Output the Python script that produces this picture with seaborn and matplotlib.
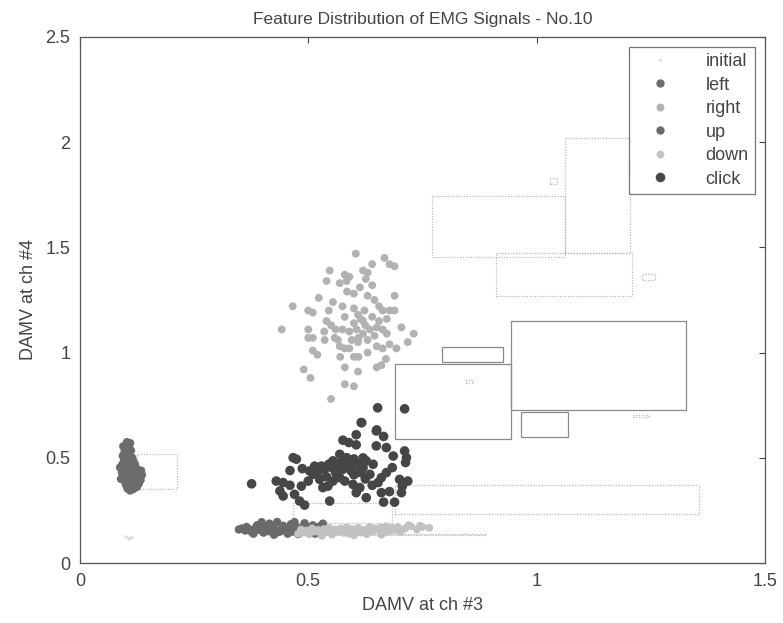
import matplotlib
matplotlib.use("Agg")
import matplotlib.pyplot as plt
from matplotlib.patches import Rectangle
import pandas as pd
import seaborn as sns

sns.set_style("white")
plt.rcParams["font.family"] = ["Liberation Sans", "DejaVu Sans"]

# cluster points
init_x = [0.100, 0.105, 0.110, 0.115, 0.108]
init_y = [0.125, 0.120, 0.118, 0.122, 0.113]

left_x = [0.103, 0.110, 0.095, 0.100, 0.107, 0.098, 0.104, 0.112, 0.094, 0.101, 0.108, 0.115,
          0.097, 0.104, 0.111, 0.118, 0.093, 0.100, 0.107, 0.114, 0.121, 0.096, 0.103, 0.110,
          0.117, 0.124, 0.092, 0.099, 0.106, 0.113, 0.120, 0.127, 0.095, 0.102, 0.109, 0.116,
          0.123, 0.130, 0.098, 0.105, 0.112, 0.119, 0.126, 0.133, 0.101, 0.108, 0.115, 0.122,
          0.129, 0.104, 0.111, 0.118, 0.125, 0.110, 0.117, 0.136, 0.088, 0.090, 0.134]
left_y = [0.575, 0.570, 0.555, 0.545, 0.550, 0.530, 0.525, 0.535, 0.510, 0.505, 0.512, 0.500,
          0.490, 0.485, 0.492, 0.480, 0.470, 0.465, 0.472, 0.460, 0.468, 0.450, 0.445, 0.452,
          0.440, 0.448, 0.430, 0.425, 0.432, 0.420, 0.428, 0.435, 0.410, 0.405, 0.412, 0.400,
          0.408, 0.415, 0.390, 0.385, 0.392, 0.380, 0.388, 0.395, 0.372, 0.368, 0.375, 0.365,
          0.378, 0.355, 0.350, 0.358, 0.362, 0.345, 0.352, 0.420, 0.455, 0.400, 0.440]

right_x = [0.604, 0.667, 0.678, 0.689, 0.547, 0.540, 0.580, 0.590, 0.569, 0.584, 0.620, 0.630,
           0.626, 0.640, 0.613, 0.523, 0.630, 0.645, 0.689, 0.466, 0.500, 0.510, 0.554, 0.575,
           0.580, 0.600, 0.609, 0.623, 0.620, 0.663, 0.678, 0.689, 0.672, 0.540, 0.550, 0.560,
           0.442, 0.500, 0.500, 0.510, 0.536, 0.558, 0.575, 0.590, 0.606, 0.620, 0.635, 0.650,
           0.663, 0.672, 0.704, 0.731, 0.718, 0.569, 0.580, 0.590, 0.609, 0.630, 0.650, 0.663,
           0.678, 0.693, 0.510, 0.520, 0.570, 0.600, 0.610, 0.650, 0.660, 0.670, 0.490, 0.505,
           0.580, 0.609, 0.580, 0.600, 0.550, 0.615, 0.600, 0.625, 0.610, 0.640, 0.655, 0.595,
           0.630, 0.645, 0.565, 0.585, 0.600, 0.655, 0.545, 0.640, 0.535]
right_y = [1.47, 1.45, 1.42, 1.41, 1.39, 1.34, 1.37, 1.36, 1.33, 1.34, 1.39, 1.38,
           1.35, 1.32, 1.31, 1.26, 1.27, 1.25, 1.27, 1.22, 1.20, 1.19, 1.24, 1.22,
           1.17, 1.21, 1.18, 1.20, 1.15, 1.20, 1.20, 1.20, 1.16, 1.15, 1.13, 1.11,
           1.11, 1.11, 1.07, 1.07, 1.06, 1.07, 1.11, 1.10, 1.11, 1.09, 1.11, 1.12,
           1.11, 1.09, 1.12, 1.09, 1.05, 1.03, 1.02, 1.02, 1.05, 1.06, 1.03, 1.02,
           1.04, 1.02, 1.01, 0.99, 0.98, 0.98, 0.98, 0.93, 0.94, 0.97, 0.92, 0.88,
           0.93, 0.91, 0.85, 0.84, 0.78, 1.16, 1.14, 1.13, 1.07, 1.17, 1.15, 1.06,
           1.00, 1.08, 1.06, 1.29, 1.28, 1.22, 1.20, 1.42, 1.10]

up_x = [0.348, 0.355, 0.362, 0.370, 0.365, 0.378, 0.385, 0.392, 0.388, 0.380, 0.398, 0.405,
        0.412, 0.395, 0.402, 0.420, 0.428, 0.435, 0.415, 0.425, 0.442, 0.450, 0.445, 0.432,
        0.458, 0.465, 0.472, 0.455, 0.462, 0.480, 0.488, 0.495, 0.470, 0.478, 0.502, 0.510,
        0.518, 0.492, 0.500, 0.525, 0.532, 0.515, 0.485, 0.440, 0.410, 0.375, 0.460, 0.505]
up_y = [0.160, 0.165, 0.155, 0.162, 0.172, 0.150, 0.168, 0.158, 0.180, 0.140, 0.195, 0.163,
        0.152, 0.175, 0.145, 0.170, 0.158, 0.148, 0.188, 0.135, 0.165, 0.155, 0.178, 0.196,
        0.168, 0.150, 0.175, 0.140, 0.185, 0.160, 0.172, 0.152, 0.195, 0.138, 0.165, 0.180,
        0.158, 0.190, 0.145, 0.175, 0.188, 0.140, 0.155, 0.152, 0.175, 0.150, 0.160, 0.170]

down_x = [0.478, 0.490, 0.502, 0.515, 0.528, 0.540, 0.552, 0.565, 0.578, 0.590, 0.602, 0.615,
          0.628, 0.640, 0.652, 0.665, 0.678, 0.690, 0.702, 0.484, 0.496, 0.508, 0.521, 0.534,
          0.546, 0.559, 0.571, 0.584, 0.596, 0.609, 0.621, 0.634, 0.646, 0.659, 0.671, 0.684,
          0.696, 0.712, 0.725, 0.738, 0.750, 0.765, 0.720, 0.745, 0.530, 0.600, 0.660]
down_y = [0.140, 0.145, 0.138, 0.150, 0.142, 0.148, 0.136, 0.152, 0.144, 0.140, 0.155, 0.146,
          0.138, 0.150, 0.160, 0.145, 0.152, 0.158, 0.148, 0.160, 0.155, 0.165, 0.158, 0.162,
          0.168, 0.160, 0.165, 0.170, 0.162, 0.168, 0.158, 0.172, 0.165, 0.170, 0.175, 0.168,
          0.172, 0.165, 0.175, 0.160, 0.172, 0.168, 0.180, 0.178, 0.130, 0.132, 0.135]

click_x = [0.616, 0.605, 0.649, 0.665, 0.576, 0.589, 0.605, 0.649, 0.671, 0.467, 0.474, 0.487,
           0.514, 0.529, 0.554, 0.569, 0.584, 0.460, 0.376, 0.430, 0.445, 0.438, 0.445, 0.470,
           0.481, 0.492, 0.485, 0.547, 0.627, 0.660, 0.678, 0.665, 0.689, 0.704, 0.706, 0.700,
           0.718, 0.711, 0.715, 0.713, 0.686, 0.684, 0.671, 0.660, 0.653, 0.613, 0.598, 0.605,
           0.569, 0.554, 0.543, 0.532, 0.525, 0.511, 0.503, 0.642, 0.627, 0.620, 0.635, 0.594,
           0.584, 0.576, 0.562, 0.551, 0.711, 0.652, 0.617, 0.650, 0.570, 0.580, 0.590, 0.600,
           0.610, 0.575, 0.545, 0.535, 0.560, 0.600, 0.615, 0.620, 0.600, 0.540, 0.520, 0.580,
           0.640, 0.625, 0.500, 0.460]
click_y = [0.668, 0.610, 0.628, 0.602, 0.584, 0.573, 0.562, 0.557, 0.549, 0.501, 0.494, 0.449,
           0.461, 0.461, 0.486, 0.517, 0.501, 0.440, 0.377, 0.390, 0.383, 0.343, 0.319, 0.327,
           0.295, 0.276, 0.366, 0.295, 0.311, 0.335, 0.340, 0.290, 0.290, 0.335, 0.366, 0.398,
           0.390, 0.533, 0.501, 0.478, 0.509, 0.454, 0.430, 0.406, 0.383, 0.359, 0.374, 0.335,
           0.406, 0.390, 0.366, 0.359, 0.398, 0.422, 0.438, 0.470, 0.486, 0.454, 0.422, 0.438,
           0.462, 0.446, 0.470, 0.454, 0.733, 0.738, 0.667, 0.633, 0.475, 0.480, 0.470, 0.460,
           0.470, 0.455, 0.470, 0.445, 0.430, 0.420, 0.430, 0.500, 0.495, 0.410, 0.430, 0.390,
           0.370, 0.400, 0.390, 0.370]

gestures = ["initial", "left", "right", "up", "down", "click"]
xs = [init_x, left_x, right_x, up_x, down_x, click_x]
ys = [init_y, left_y, right_y, up_y, down_y, click_y]

# boxes drawn in the chart: x0, x1, y0, y1
box_x0 = [0.125, 0.466, 0.690, 0.690, 0.792, 0.945, 0.965, 0.772, 0.910, 1.063, 0.500, 1.230, 0.845, 1.210, 1.030]
box_x1 = [0.212, 0.683, 1.355, 0.943, 0.926, 1.328, 1.068, 1.063, 1.208, 1.205, 0.890, 1.260, 0.860, 1.245, 1.045]
box_y0 = [0.350, 0.190, 0.235, 0.590, 0.957, 0.729, 0.600, 1.452, 1.267, 1.471, 0.135, 1.345, 0.855, 0.695, 1.800]
box_y1 = [0.520, 0.285, 0.370, 0.948, 1.029, 1.148, 0.719, 1.743, 1.471, 2.020, 0.140, 1.375, 0.870, 0.705, 1.830]
box_dark = [False, False, False, True, True, True, True, False, False, False, False, False, False, False, False]

rows = []
for g, gx, gy in zip(gestures, xs, ys):
    for a, b in zip(gx, gy):
        rows.append({"x": a, "y": b, "gesture": g})
df = pd.DataFrame(rows)

pal = {"initial": "#dedede", "left": "#6c6c6c", "right": "#b2b2b2",
       "up": "#6a6a6a", "down": "#c2c2c2", "click": "#464646"}
mk = {"initial": ".", "left": "o", "right": "o", "up": "o", "down": "o", "click": "o"}
sz = {"initial": 20, "left": 36, "right": 32, "up": 36, "down": 32, "click": 48}

fig = plt.figure(figsize=(7.83, 6.23), dpi=100)
ax = fig.add_axes([0.102, 0.096, 0.875, 0.845])

for i in range(len(box_x0)):
    col = "#8a8a8a" if box_dark[i] else "#b8b8b8"
    ls = "-" if box_dark[i] else (0, (1, 1.2))
    ax.add_patch(Rectangle((box_x0[i], box_y0[i]), box_x1[i] - box_x0[i], box_y1[i] - box_y0[i],
                           fill=False, edgecolor=col, linestyle=ls, linewidth=0.9, zorder=1))

sns.scatterplot(data=df, x="x", y="y", hue="gesture", style="gesture", size="gesture",
                hue_order=gestures, palette=pal, markers=mk, sizes=sz,
                linewidth=0, ax=ax, zorder=2)

ax.set_xlim(0, 1.5)
ax.set_ylim(0, 2.5)
ax.set_xticks([0, 0.5, 1, 1.5])
ax.set_xticklabels(["0", "0.5", "1", "1.5"])
ax.set_yticks([0, 0.5, 1, 1.5, 2, 2.5])
ax.set_yticklabels(["0", "0.5", "1", "1.5", "2", "2.5"])
ax.tick_params(direction="in", top=True, right=True, length=4, width=0.8,
               labelsize=13, colors="#444444", pad=7)
for s in ax.spines.values():
    s.set_color("#555555")
    s.set_linewidth(0.9)

ax.set_xlabel("DAMV at ch #3", fontsize=13, color="#444444", labelpad=5)
ax.set_ylabel("DAMV at ch #4", fontsize=13, color="#444444", labelpad=6)
ax.set_title("Feature Distribution of EMG Signals - No.10", fontsize=12.5, color="#444444", pad=9)

handles, labels = ax.get_legend_handles_labels()
leg = ax.legend(handles, labels, loc="upper right", fontsize=13, frameon=True, fancybox=False,
                edgecolor="#555555", borderaxespad=0.55, labelspacing=0.36, handlelength=2.8,
                handletextpad=1.1, borderpad=0.35)
leg.get_frame().set_linewidth(0.9)
for t in leg.get_texts():
    t.set_color("#444444")

fig.savefig("out.png", dpi=100)
